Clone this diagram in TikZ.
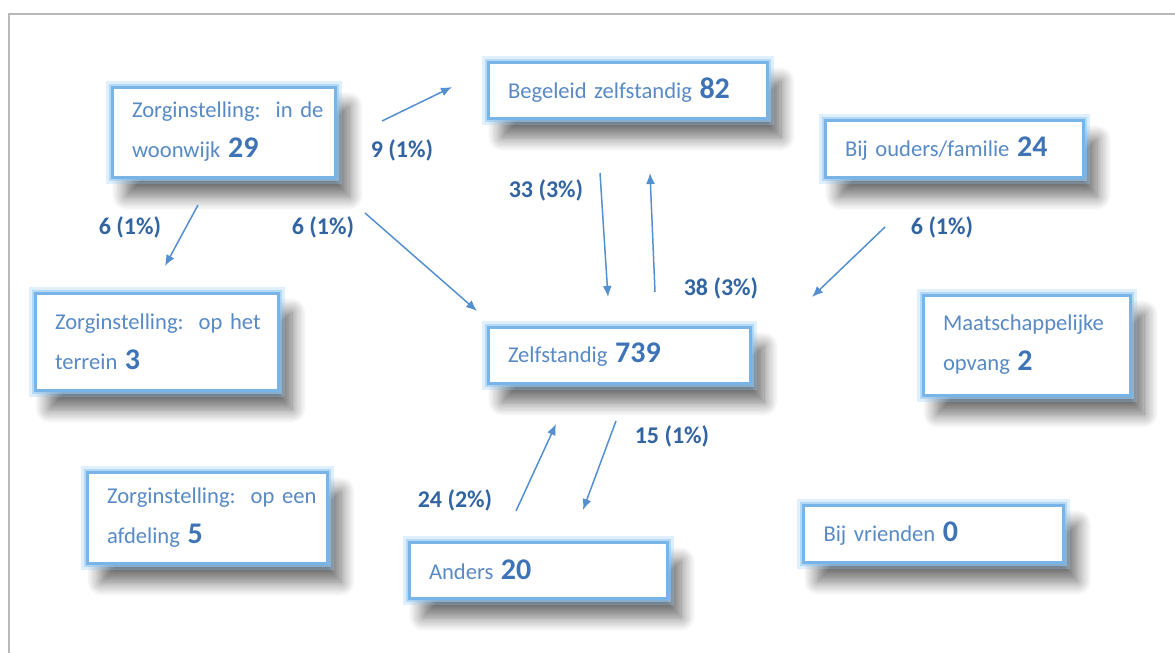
\documentclass[tikz,border=0pt]{standalone}
\usepackage{fontspec}
\setmainfont{Carlito}
\usepackage{tikz}
\usetikzlibrary{arrows.meta, shadows.blur}

\definecolor{txtBlue}{RGB}{88,138,198}
\definecolor{numBlue}{RGB}{62,116,182}
\definecolor{lblBlue}{RGB}{50,100,162}
\definecolor{arrowBlue}{RGB}{84,144,208}
\definecolor{edgeBlue}{RGB}{120,180,232}
\definecolor{glowBlue}{RGB}{150,202,244}

\newcommand{\cnt}[1]{{\fontsize{30}{30}\selectfont\bfseries\color{numBlue}#1}}

\begin{document}
\begin{tikzpicture}[x=1pt, y=-1pt, >={Latex[length=11pt,width=9pt]}, align=left,
    block/.style = {rectangle, fill=white, draw=edgeBlue, line width=3pt,
        blur shadow={shadow xshift=14pt, shadow yshift=-19pt, shadow blur radius=14pt, shadow blur steps=12, shadow opacity=60},
        preaction={draw=glowBlue, line width=13pt, opacity=.3},
        preaction={draw=glowBlue, line width=7pt, opacity=.6},
        text=txtBlue, font=\fontsize{22.6}{40}\selectfont, inner xsep=20pt, inner ysep=4pt},
    flow/.style = {->, draw=arrowBlue, line width=1.5pt},
    share/.style = {text=lblBlue, font=\fontsize{24}{24}\selectfont\bfseries}]
    \useasboundingbox (0,0) rectangle (1175,653);

    % Frame
    \draw [gray!55, line width=2pt] (9,653) -- (9,14) -- (1175,14);

    % Living situations
    \node [block, minimum width=223pt, minimum height=90pt, text width=183pt] (woonwijk) at (223.5,132) {Zorginstelling:~~in~de\\woonwijk \cnt{29}};
    \node [block, minimum width=279pt, minimum height=56pt, text width=239pt] (begeleid) at (627.5,90) {Begeleid zelfstandig \cnt{82}};
    \node [block, minimum width=258pt, minimum height=57pt, text width=218pt] (ouders) at (954,148.5) {Bij ouders/familie \cnt{24}};
    \node [block, minimum width=243pt, minimum height=97pt, text width=203pt] (terrein) at (156.5,341.5) {Zorginstelling:~~op~het\\terrein \cnt{3}};
    \node [block, minimum width=262pt, minimum height=56pt, text width=222pt] (zelfstandig) at (619,355) {Zelfstandig \cnt{739}};
    \node [block, minimum width=207pt, minimum height=100pt, text width=167pt] (opvang) at (1026.5,345) {Maatschappelijke\\opvang \cnt{2}};
    \node [block, minimum width=240pt, minimum height=91pt, text width=200pt] (afdeling) at (207,517.5) {Zorginstelling:~~op~een\\afdeling \cnt{5}};
    \node [block, minimum width=258pt, minimum height=56pt, text width=218pt] (anders) at (538,570) {Anders \cnt{20}};
    \node [block, minimum width=260pt, minimum height=57pt, text width=220pt] (vrienden) at (933.5,533.5) {Bij vrienden \cnt{0}};

    % Arrow ends
    \coordinate (wbS) at (382,121);  \coordinate (wbE) at (452,87);
    \coordinate (wtS) at (198,205);  \coordinate (wtE) at (165,266);
    \coordinate (wzS) at (365,213);  \coordinate (wzE) at (477,311);
    \coordinate (bzS) at (600,173);  \coordinate (bzE) at (608,297);
    \coordinate (zbS) at (655,292);  \coordinate (zbE) at (650,173);
    \coordinate (ozS) at (885,227);  \coordinate (ozE) at (812,297);
    \coordinate (azS) at (516,511);  \coordinate (azE) at (556,424);
    \coordinate (zaS) at (616,421);  \coordinate (zaE) at (583,510);

    \draw [flow] (wbS) -- (wbE);
    \draw [flow] (wtS) -- (wtE);
    \draw [flow] (wzS) -- (wzE);
    \draw [flow] (bzS) -- (bzE);
    \draw [flow] (zbS) -- (zbE);
    \draw [flow] (ozS) -- (ozE);
    \draw [flow] (azS) -- (azE);
    \draw [flow] (zaS) -- (zaE);

    % Moves
    \node [share] (wbLabel) at (402,150) {9 (1\%)};
    \node [share] (wtLabel) at (130,227) {6 (1\%)};
    \node [share] (wzLabel) at (323,227) {6 (1\%)};
    \node [share] (bzLabel) at (546,190) {33 (3\%)};
    \node [share] (zbLabel) at (721,288) {38 (3\%)};
    \node [share] (ozLabel) at (942,227) {6 (1\%)};
    \node [share] (azLabel) at (455,500) {24 (2\%)};
    \node [share] (zaLabel) at (672,436) {15 (1\%)};
\end{tikzpicture}
\end{document}
